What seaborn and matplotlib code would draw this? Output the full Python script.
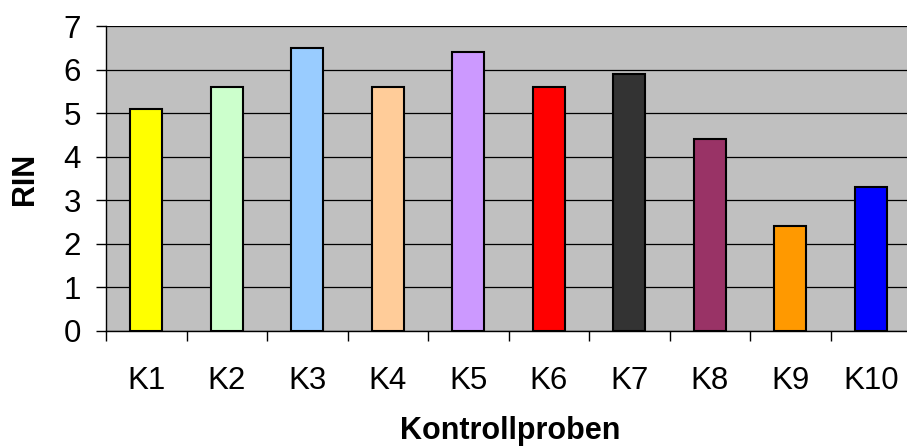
import matplotlib
matplotlib.use('Agg')

import pandas as pd
import matplotlib.pyplot as plt
import seaborn as sns

sns.set_theme(style="white")
plt.rcParams['font.family'] = ['Liberation Sans', 'DejaVu Sans']
plt.rcParams['text.color'] = 'black'
plt.rcParams['xtick.color'] = 'black'
plt.rcParams['ytick.color'] = 'black'
plt.rcParams['axes.labelcolor'] = 'black'

# Daten
proben = ['K1', 'K2', 'K3', 'K4', 'K5', 'K6', 'K7', 'K8', 'K9', 'K10']
rin = [5.1, 5.6, 6.5, 5.6, 6.4, 5.6, 5.9, 4.4, 2.4, 3.3]
farben = ['#FFFF00', '#CCFFCC', '#99CCFF', '#FFCC99', '#CC99FF',
          '#FF0000', '#333333', '#993366', '#FF9900', '#0000FF']

df = pd.DataFrame({'Probe': proben, 'RIN': rin})

fig = plt.figure(figsize=(9.07, 4.48), dpi=100)
ax = fig.add_axes([106 / 907, 1 - 331 / 448, 805 / 907, 305 / 448])

sns.barplot(data=df, x='Probe', y='RIN', hue='Probe', palette=farben,
            width=0.4, edgecolor='black', linewidth=1.5, legend=False,
            saturation=1, ax=ax, zorder=3)

ax.set_facecolor('#C0C0C0')
ax.set_xlim(-0.5, 9.5)
ax.set_ylim(0, 7)
ax.set_yticks(range(0, 8))
ax.yaxis.grid(True, color='black', linewidth=0.9, zorder=1)
ax.set_axisbelow(True)

for s in ['top', 'right']:
    ax.spines[s].set_visible(False)
for s in ['left', 'bottom']:
    ax.spines[s].set_color('black')
    ax.spines[s].set_linewidth(1)

# Trennstriche zwischen den Kategorien
ax.set_xticks([i - 0.5 for i in range(len(proben) + 1)], minor=True)
ax.tick_params(axis='x', which='minor', length=7, width=1, color='black', direction='out', bottom=True)
ax.tick_params(axis='x', which='major', length=0, pad=25, labelsize=22.5)
ax.tick_params(axis='y', which='major', length=7, width=1, color='black', direction='out',
               left=True, pad=11, labelsize=22.5)

ax.set_xlabel('Kontrollproben', fontsize=22, fontweight='bold')
ax.set_ylabel('RIN', fontsize=22, fontweight='bold')
ax.xaxis.set_label_coords(0.502, -0.328)
ax.xaxis.label.set_verticalalignment('center')
ax.yaxis.set_label_coords(-0.1006, 0.5)
ax.yaxis.label.set_verticalalignment('center')
ax.yaxis.label.set_horizontalalignment('center')

fig.savefig('out.png', dpi=100)
